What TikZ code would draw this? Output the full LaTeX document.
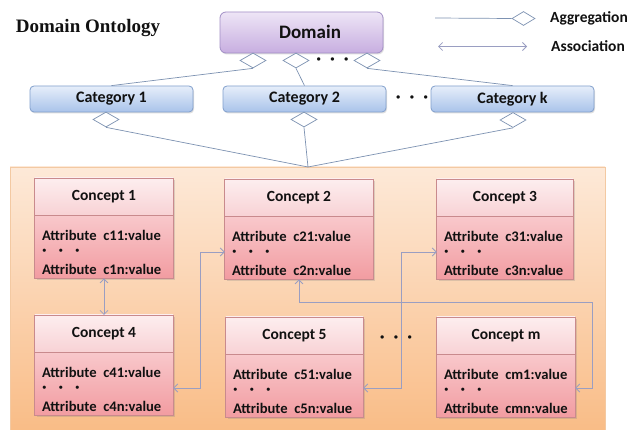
\documentclass[tikz,border=0pt]{standalone}
\usepackage{fontspec}
\setmainfont{Carlito}
\newfontfamily\titlefont{Liberation Serif}
\usetikzlibrary{shapes.geometric,arrows.meta,shadows}

\definecolor{domaintop}{HTML}{EEE5F6}
\definecolor{domainbot}{HTML}{C7AEE0}
\definecolor{domainedge}{HTML}{A28FC6}
\definecolor{cattop}{HTML}{E6EEFA}
\definecolor{catbot}{HTML}{A9C3EA}
\definecolor{catedge}{HTML}{819FCC}
\definecolor{paneltop}{HTML}{FDE9D8}
\definecolor{panelbot}{HTML}{F9BC86}
\definecolor{paneledge}{HTML}{F3C9A2}
\definecolor{headtop}{HTML}{FDEEEF}
\definecolor{headbot}{HTML}{F8D2D5}
\definecolor{bodytop}{HTML}{FCE2E4}
\definecolor{bodybot}{HTML}{F29CA1}
\definecolor{conceptedge}{HTML}{C98A8D}
\definecolor{agglinecol}{HTML}{7D92B2}
\definecolor{assoclinecol}{HTML}{9A9EC2}
\definecolor{inktext}{HTML}{111111}

% three small dots used as an ellipsis
\newcommand\tdots{·\hspace{9pt}·\hspace{9pt}·}
\newcommand\wdots{·\hspace{12pt}·\hspace{12pt}·}

% a UML-like class box: header with the concept name, body with attributes
% #1 name, #2 centre x, #3 top y, #4 width, #5 title, #6 first attribute, #7 last attribute
\newcommand\conceptbox[7]{%
  \node[conceptframe, minimum width=#4, anchor=north] (#1) at (#2,#3) {};
  \path[headfill] (#1.north west) rectangle ([yshift=-37pt]#1.north east);
  \draw[conceptline] ([yshift=-37pt]#1.north west) -- ([yshift=-37pt]#1.north east);
  \draw[conceptline] (#1.north west) rectangle (#1.south east);
  \node[ctitle] (#1-t) at ([yshift=-18.5pt]#1.north) {#5};
  \node[cattr] (#1-a) at ([xshift=7pt,yshift=-57pt]#1.north west) {#6};
  \node[cdots] (#1-d) at ([xshift=7pt,yshift=-74pt]#1.north west) {\wdots};
  \node[cattr] (#1-b) at ([xshift=7pt,yshift=-91pt]#1.north west) {#7};
}

\begin{document}
\begin{tikzpicture}[x=1pt,y=-1pt,
  font=\bfseries, text=inktext,
  domainbox/.style={draw=domainedge, line width=0.8pt, rounded corners=6pt,
    top color=domaintop, bottom color=domainbot,
    minimum width=163pt, minimum height=41pt, inner sep=0pt,
    drop shadow={opacity=0.25, shadow xshift=1pt, shadow yshift=-1.5pt}},
  catbox/.style={draw=catedge, line width=0.8pt, rounded corners=4pt,
    top color=cattop, bottom color=catbot,
    minimum width=163pt, minimum height=26pt, inner sep=0pt,
    font=\bfseries\fontsize{16}{18}\selectfont,
    drop shadow={opacity=0.25, shadow xshift=1pt, shadow yshift=-1.5pt}},
  agg/.style={diamond, draw=agglinecol, fill=white, line width=0.7pt,
    minimum width=26pt, minimum height=15pt, inner sep=0pt},
  aggline/.style={draw=agglinecol, line width=0.7pt},
  assoc/.style={draw=assoclinecol, line width=0.8pt,
    {Straight Barb[length=4pt,width=8pt]}-{Straight Barb[length=4pt,width=8pt]}},
  conceptframe/.style={minimum height=100pt, inner sep=0pt,
    top color=bodytop, bottom color=bodybot,
    drop shadow={opacity=0.25, shadow xshift=1.5pt, shadow yshift=-1.5pt}},
  headfill/.style={top color=headtop, bottom color=headbot},
  conceptline/.style={draw=conceptedge, line width=0.7pt},
  ctitle/.style={font=\bfseries\fontsize{15.5}{18}\selectfont, inner sep=0pt},
  cattr/.style={anchor=west, font=\bfseries\fontsize{14.6}{16}\selectfont, inner sep=0pt},
  cdots/.style={anchor=west, font=\bfseries\fontsize{17}{17}\selectfont, inner sep=0pt},
  freedots/.style={font=\bfseries\fontsize{18}{18}\selectfont, inner sep=0pt},
  legendtext/.style={anchor=west, font=\bfseries\fontsize{15.5}{18}\selectfont, inner sep=0pt}
]
\useasboundingbox (0,0) rectangle (635,430);
\fill[white] (0,0) rectangle (635,430);

% title
\node[font=\titlefont\bfseries\fontsize{19}{22}\selectfont, inner sep=0pt] (title) at (88,28) {Domain Ontology};

% legend
\coordinate (lgstart) at (435,18);
\node[agg, minimum width=23pt, minimum height=14pt] (lgdiamond) at (523.5,18.5) {};
\draw[aggline] (lgstart) -- (lgdiamond.west);
\node[legendtext] (lgagg) at (550,18) {Aggregation};
\coordinate (lgassocA) at (438,46.5);
\coordinate (lgassocB) at (527,46.5);
\draw[assoc] (lgassocA) -- (lgassocB);
\node[legendtext] (lgassoc) at (551,46.5) {Association};

% domain level
\node[domainbox] (domain) at (301.5,32.5) {};
\node[font=\bfseries\fontsize{19}{22}\selectfont, inner sep=0pt] (domaintext) at (310,32) {Domain};
\node[agg] (dd1) at (253,60.5) {};
\node[agg] (dd2) at (296,60.5) {};
\node[agg] (dd3) at (367,60.5) {};
\node[freedots] (ddots) at (332.5,61) {\tdots};

% category level
\node[catbox] (cat1) at (111.5,99) {Category 1};
\node[catbox] (cat2) at (304.5,99) {Category 2};
\node[catbox] (catk) at (512.5,99) {Category k};
\node[freedots] (cdots) at (412,99.5) {\tdots};
\draw[aggline] (dd1.south) -- (cat1.north);
\draw[aggline] (dd2.south) -- (cat2.north);
\draw[aggline] (dd3.south) -- (catk.north);

\node[agg] (dc1) at (106,119.5) {};
\node[agg] (dc2) at (304,119.5) {};
\node[agg] (dck) at (513,120) {};

% concept panel
\path[top color=paneltop, bottom color=panelbot, draw=paneledge, line width=0.8pt]
  (10,167) rectangle (605,432);
\coordinate (hub) at (308,167);
\draw[aggline] (dc1.south) -- (hub);
\draw[aggline] (dc2.south) -- (hub);
\draw[aggline] (dck.south) -- (hub);

\conceptbox{c1}{104}{178}{138pt}{Concept 1}{Attribute~ c11:value}{Attribute~ c1n:value}
\conceptbox{c2}{299}{179}{148pt}{Concept 2}{Attribute~ c21:value}{Attribute~ c2n:value}
\conceptbox{c3}{505}{179}{136pt}{Concept 3}{Attribute~ c31:value}{Attribute~ c3n:value}
\conceptbox{c4}{104}{315}{138pt}{Concept 4}{Attribute~ c41:value}{Attribute~ c4n:value}
\conceptbox{c5}{294.5}{317}{137pt}{Concept 5}{Attribute~ c51:value}{Attribute~ c5n:value}
\conceptbox{cm}{506}{317}{138pt}{Concept m}{Attribute~ cm1:value}{Attribute~ cmn:value}
\node[freedots] (mdots) at (396,339) {\tdots};

% associations between concepts
\draw[assoc] (c1.south) -- (c4.north);

\coordinate (r24a) at (200,252);
\coordinate (r24b) at (200,388);
\draw[assoc] (r24a -| c2.west) -- (r24a) -- (r24b) -- (r24b -| c4.east);

\coordinate (r35a) at (401,252);
\coordinate (r35b) at (401,388);
\draw[assoc] (r35a -| c3.west) -- (r35a) -- (r35b) -- (r35b -| c5.east);

\coordinate (r2ma) at (299,302);
\coordinate (r2mb) at (592,302);
\coordinate (r2mc) at (592,388);
\draw[assoc] (c2.south) -- (r2ma) -- (r2mb) -- (r2mc) -- (r2mc -| cm.east);
\end{tikzpicture}
\end{document}
